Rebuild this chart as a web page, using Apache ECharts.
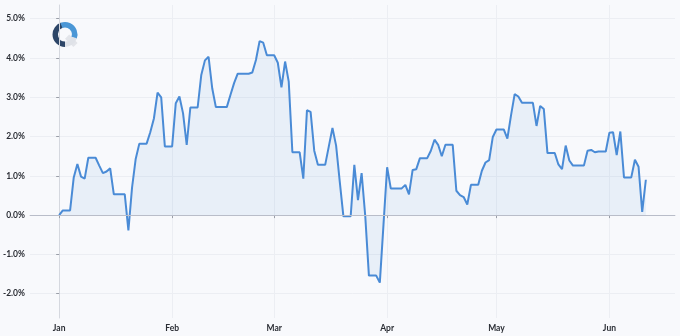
<!DOCTYPE html>
<html>
<head>
<meta charset="utf-8">
<script src="https://cdn.jsdelivr.net/npm/echarts@6/dist/echarts.min.js"></script>
<style>html,body{margin:0;padding:0;background:#f8f9fc}#c{width:680px;height:336px}</style>
</head>
<body>
<div id="c"></div>
<script>
// Daily cumulative return (%) from Jan 1, index = day offset
var values = [
  0.00, 0.12, 0.12, 0.12, 0.96, 1.30, 0.98, 0.93, 1.46, 1.46,
  1.46, 1.26, 1.07, 1.11, 1.19, 0.53, 0.53, 0.53, 0.53, -0.39,
  0.70, 1.43, 1.82, 1.82, 1.82, 2.11, 2.46, 3.12, 3.00, 1.75,
  1.75, 1.75, 2.85, 3.02, 2.59, 1.79, 2.74, 2.74, 2.74, 3.57,
  3.94, 4.03, 3.23, 2.75, 2.75, 2.75, 2.75, 3.06, 3.36, 3.60,
  3.60, 3.60, 3.60, 3.63, 3.95, 4.43, 4.39, 4.07, 4.07, 4.07,
  3.88, 3.25, 3.91, 3.40, 1.60, 1.60, 1.60, 0.93, 2.67, 2.63,
  1.64, 1.28, 1.28, 1.28, 1.75, 2.22, 1.77, 0.85, -0.03, -0.03,
  -0.03, 1.28, 0.38, 1.07, -0.03, -1.54, -1.54, -1.54, -1.72, -0.25,
  1.22, 0.68, 0.68, 0.68, 0.68, 0.77, 0.53, 1.15, 1.17, 1.45,
  1.45, 1.45, 1.64, 1.92, 1.79, 1.50, 1.79, 1.79, 1.79, 0.62,
  0.51, 0.46, 0.27, 0.77, 0.77, 0.77, 1.13, 1.34, 1.40, 1.99,
  2.18, 2.18, 2.18, 1.95, 2.54, 3.08, 3.02, 2.86, 2.86, 2.86,
  2.86, 2.27, 2.78, 2.70, 1.58, 1.58, 1.58, 1.29, 1.17, 1.77,
  1.39, 1.26, 1.26, 1.26, 1.26, 1.64, 1.66, 1.60, 1.62, 1.62,
  1.62, 2.10, 2.11, 1.53, 2.13, 0.96, 0.96, 0.96, 1.41, 1.23,
  0.08, 0.90
];
var monthTickDays = [0, 31, 59, 90, 120, 151];
var monthLabels = ['Jan', 'Feb', 'Mar', 'Apr', 'May', 'Jun'];
var yTickValues = [-2, -1, 0, 1, 2, 3, 4, 5];

var seriesData = values.map(function (v, i) { return [i, v]; });

var labelStyle = {color: '#2a2d34', fontFamily: 'Lato', fontWeight: 'bold', fontSize: 8.5};

var chart = echarts.init(document.getElementById('c'), null, {renderer: 'canvas'});
chart.setOption({
  backgroundColor: '#f8f9fc',
  animation: false,
  grid: {left: 29, right: 5, top: 5, bottom: 18, containLabel: false},
  xAxis: {
    type: 'value',
    min: -8,
    max: 169,
    axisLine: {show: true, lineStyle: {color: '#c9ccd4', width: 1}},
    axisTick: {show: true, length: 3, customValues: monthTickDays, lineStyle: {color: '#9a9ea8'}},
    axisLabel: Object.assign({
      margin: 6,
      customValues: monthTickDays,
      formatter: function (v) { return monthLabels[monthTickDays.indexOf(v)] || ''; }
    }, labelStyle),
    splitLine: {show: true, lineStyle: {color: '#eceef3', width: 1}}
  },
  yAxis: {
    type: 'value',
    min: -2.62,
    max: 5.35,
    axisLine: {show: true, lineStyle: {color: '#d5d8df', width: 1}},
    axisTick: {show: true, length: 3, customValues: yTickValues, lineStyle: {color: '#9a9ea8'}},
    axisLabel: Object.assign({
      margin: 5,
      customValues: yTickValues,
      formatter: function (v) { return v.toFixed(1) + '%'; }
    }, labelStyle),
    splitLine: {show: true, lineStyle: {color: '#eceef3', width: 1}}
  },
  series: [{
    type: 'line',
    data: seriesData,
    showSymbol: false,
    symbol: 'none',
    lineStyle: {color: '#4a8bd6', width: 2},
    areaStyle: {color: 'rgba(74,139,214,0.13)'},
    markLine: {
      silent: true,
      symbol: ['none', 'none'],
      label: {show: false},
      lineStyle: {color: '#b9bdc9', width: 1, type: 'solid'},
      data: [{yAxis: 0}]
    },
    z: 3
  }],
  graphic: [
    {type: 'polygon', shape: {points: [[65, 38.7], [69.2, 34.5], [77.6, 42.9], [73.4, 47.1]]}, style: {fill: '#e3e5ea'}},
    {type: 'sector', shape: {cx: 65, cy: 34.5, r: 12.5, r0: 7, startAngle: Math.PI * 0.5, endAngle: Math.PI * 1.4, clockwise: true}, style: {fill: '#2d4668'}},
    {type: 'sector', shape: {cx: 65, cy: 34.5, r: 12.5, r0: 7, startAngle: Math.PI * 1.38, endAngle: Math.PI * 2.12, clockwise: true}, style: {fill: '#4b97d6'}},
    {type: 'sector', shape: {cx: 65, cy: 34.5, r: 12.5, r0: 7, startAngle: Math.PI * 0.1, endAngle: Math.PI * 0.5, clockwise: true}, style: {fill: '#dfe2e8'}}
  ]
});
</script>
</body>
</html>
